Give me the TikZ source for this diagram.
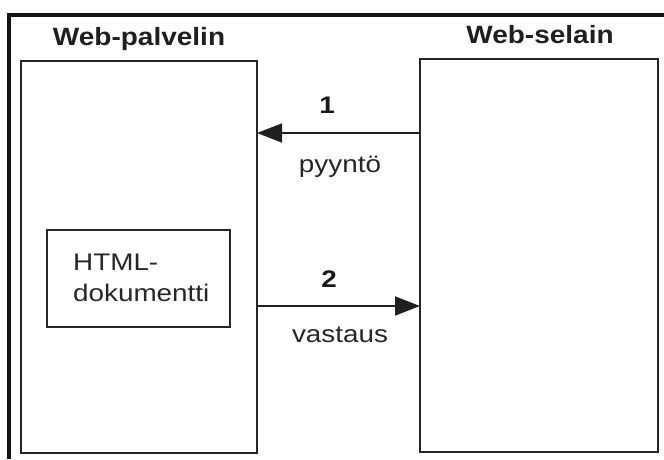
\documentclass[tikz,border=0pt]{standalone}
\usepackage{graphicx}
\usepackage{fontspec}
\setmainfont{Liberation Sans}
\usetikzlibrary{arrows.meta}
% the lettering is slightly wide, so stretch it horizontally
\newcommand{\widetext}[1]{\scalebox{1.16}[1]{#1}}
\newcommand{\wideheading}[1]{\scalebox{1.12}[1]{#1}}
\begin{document}
\begin{tikzpicture}[x=1pt,y=-1pt,
  frameline/.style={line width=4pt, color=black!92},
  box/.style={draw=black!85, line width=2pt, rectangle, inner sep=0pt, outer sep=0pt, anchor=north west},
  heading/.style={inner sep=0pt, anchor=base, font=\fontsize{25}{30}\selectfont\bfseries, text=black!88},
  label/.style={inner sep=0pt, anchor=base, font=\fontsize{24}{31}\selectfont, text=black!85},
  number/.style={inner sep=0pt, anchor=base, font=\fontsize{24}{31}\selectfont\bfseries, text=black!90},
  arr/.style={draw=black!88, line width=1.6pt, -{Triangle[length=25pt,width=19pt]}}]
  \useasboundingbox (0,0) rectangle (664,459);

  % outer frame (open to the right and bottom)
  \coordinate (frametop) at (9,15);
  \coordinate (frameright) at (664,15);
  \coordinate (framebottom) at (9,459);
  \draw[frameline] (frameright) -- (frametop) -- (framebottom);

  % server and browser boxes
  \node[box, minimum width=236pt, minimum height=392pt] (server) at (21,61) {};
  \node[box, minimum width=238pt, minimum height=393pt] (client) at (420,59) {};
  \node[heading] (servertitle) at (139,45) {\wideheading{Web-palvelin}};
  \node[heading] (clienttitle) at (540,43) {\wideheading{Web-selain}};

  % document inside the server
  \node[box, minimum width=183pt, minimum height=97pt] (html) at (47,230) {};
  \node[label, anchor=base west] (htmltext) at (73,270)
    {\widetext{\begin{tabular}[t]{@{}l@{}}HTML-\\dokumentti\end{tabular}}};

  % request and response
  \coordinate (req) at (340,133);
  \coordinate (resp) at (340,306);
  \draw[arr] (req -| client.west) -- (req -| server.east);
  \draw[arr] (resp -| server.east) -- (resp -| client.west);
  \node[number] (one) at (327,113) {\widetext{1}};
  \node[label] (request) at (340,172) {\widetext{pyyntö}};
  \node[number] (two) at (329,287) {\widetext{2}};
  \node[label] (response) at (340,342) {\widetext{vastaus}};
\end{tikzpicture}
\end{document}
